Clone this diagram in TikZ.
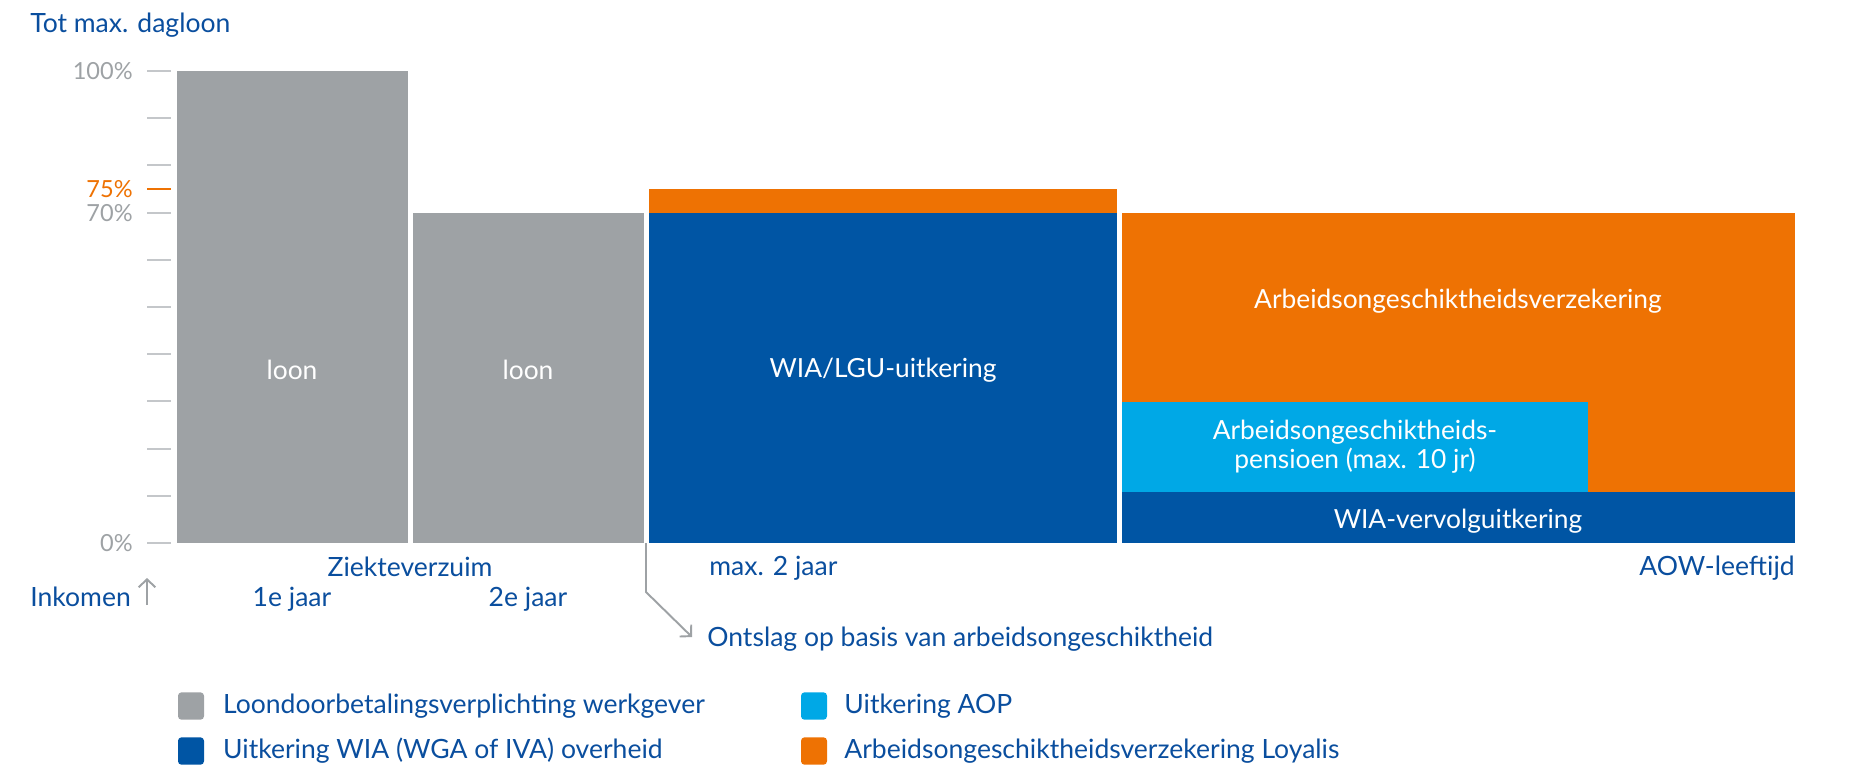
\documentclass[tikz,border=0pt]{standalone}
\usepackage{fontspec}
\setmainfont{Lato}
\usetikzlibrary{positioning, arrows.meta}
\definecolor{grijs}{HTML}{9EA2A5}
\definecolor{blauw}{HTML}{0055A4}
\definecolor{lichtblauw}{HTML}{00A8E6}
\definecolor{oranje}{HTML}{EE7203}
\definecolor{streep}{HTML}{C4C7CA}
\definecolor{tekst}{HTML}{0A4E9E}

\begin{document}
\begin{tikzpicture}
		[x=0.02cm,y=-0.02cm,
		lbl/.style={text=tekst,inner sep=0pt,font=\fontsize{15.1}{17}\selectfont},
		pct/.style={text=grijs,inner sep=0pt,anchor=base east,font=\fontsize{13.4}{15}\selectfont},
		wit/.style={text=white,inner sep=0pt,align=center,font=\fontsize{15}{16.5}\selectfont},
		tick/.style={draw=streep,line width=1.1pt},
		pijl/.style={draw=grijs,line width=1.1pt,-{Straight Barb[length=4.5pt,width=9.5pt]}},
		vak/.style={rectangle,rounded corners=2pt,minimum width=14.8pt,minimum height=15.6pt,inner sep=0pt}]
		\useasboundingbox (0,0) rectangle (1865,779);
		
		% as en titel
		\node[lbl,anchor=base west] (titel) at (30,32) {Tot max. dagloon};
		\foreach \p in {0,10,...,100}
		\draw[tick] (147,{543-4.72*\p}) -- (171,{543-4.72*\p});
		\draw[tick,draw=oranje] (147,189) -- (171,189);
		\node[pct] (p100) at (133,79) {100\%};
		\node[pct,text=oranje] (p75) at (133,197) {75\%};
		\node[pct] (p70) at (133,221) {70\%};
		\node[pct] (p0) at (133,551) {0\%};
		
		% balken
		\fill[grijs] (177,71) rectangle (407.5,543);
		\fill[grijs] (413,213) rectangle (643.5,543);
		\fill[oranje] (649,189) rectangle (1116.5,213);
		\fill[blauw] (649,213) rectangle (1116.5,543);
		\fill[oranje] (1122,213) rectangle (1795,492);
		\fill[lichtblauw] (1122,402) rectangle (1588,492);
		\fill[blauw] (1122,492) rectangle (1795,543);
		
		\node[wit] (w1) at (292,370) {loon};
		\node[wit] (w2) at (528,370) {loon};
		\node[wit] (w3) at (883,370) {WIA/LGU-uitkering};
		\node[wit] (w4) at (1458,301) {Arbeidsongeschiktheidsverzekering};
		\node[wit] (w5) at (1355,447) {Arbeidsongeschiktheids-\\pensioen (max. 10 jr)};
		\node[wit] (w6) at (1458,521) {WIA-vervolguitkering};
		
		% onderschriften
		\node[lbl,anchor=base] (zv) at (410,576) {Ziekteverzuim};
		\node[lbl,anchor=base west] (ink) at (30,606) {Inkomen};
		\node[lbl,anchor=base] (j1) at (292,606) {1e jaar};
		\node[lbl,anchor=base] (j2) at (528,606) {2e jaar};
		\node[lbl,anchor=base west] (max2) at (709,575) {max. 2 jaar};
		\node[lbl,anchor=base east] (aow) at (1795,575) {AOW-leeftijd};
		\node[lbl,anchor=base west] (ontslag) at (707,646) {Ontslag op basis van arbeidsongeschiktheid};
		
		\coordinate (i0) at (147,605);
		\coordinate (i1) at (147,578);
		\draw[pijl] (i0) -- (i1);
		\coordinate (o0) at (646,543);
		\coordinate (o1) at (646,592);
		\coordinate (o2) at (692,637);
		\draw[pijl] (o0) -- (o1) -- (o2);
		
		% legenda
		\node[vak,fill=grijs] (k1) at (191,706) {};
		\node[vak,fill=blauw] (k2) at (191,751) {};
		\node[vak,fill=lichtblauw] (k3) at (814,706) {};
		\node[vak,fill=oranje] (k4) at (814,751) {};
		\node[lbl,right=10.5pt of k1] (t1) {Loondoorbetalingsverplichting werkgever};
		\node[lbl,right=10.5pt of k2] (t2) {Uitkering WIA (WGA of IVA) overheid};
		\node[lbl,right=9.5pt of k3] (t3) {Uitkering AOP};
		\node[lbl,right=9.5pt of k4] (t4) {Arbeidsongeschiktheidsverzekering Loyalis};
		
	\end{tikzpicture}
\end{document}
